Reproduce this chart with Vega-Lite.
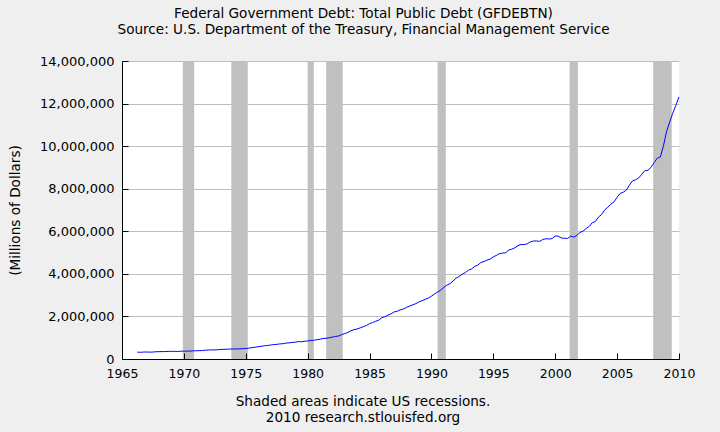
{
  "$schema": "https://vega.github.io/schema/vega-lite/v6.json",
  "autosize": {"type": "none"},
  "width": 557,
  "height": 298,
  "padding": {"left": 122, "top": 61, "right": 41, "bottom": 73},
  "background": "#EFEFEF",
  "config": {"view": {"fill": "white", "stroke": null}, "font": "DejaVu Sans"},
  "title": {
    "text": ["Federal Government Debt: Total Public Debt (GFDEBTN)", "Source: U.S. Department of the Treasury, Financial Management Service"],
    "fontSize": 13.6, "fontWeight": "normal", "color": "black", "anchor": "middle", "frame": "group", "dx": -37, "lineHeight": 16, "offset": 18
  },
  "datasets": {
    "recessions": [
      {"date": "1969-12-01", "end": "1970-11-01"},
      {"date": "1973-11-01", "end": "1975-03-01"},
      {"date": "1980-01-01", "end": "1980-07-01"},
      {"date": "1981-07-01", "end": "1982-11-01"},
      {"date": "1990-07-01", "end": "1991-03-01"},
      {"date": "2001-03-01", "end": "2001-11-01"},
      {"date": "2007-12-01", "end": "2009-06-01"}
    ],
    "debt": [
      {"date": "1966-03-31", "debt": 320999}, {"date": "1966-06-30", "debt": 316097}, {"date": "1966-09-30", "debt": 324748}, {"date": "1966-12-31", "debt": 329319},
      {"date": "1967-03-31", "debt": 322894}, {"date": "1967-06-30", "debt": 326221}, {"date": "1967-09-30", "debt": 340445}, {"date": "1967-12-31", "debt": 344663},
      {"date": "1968-03-31", "debt": 349000}, {"date": "1968-06-30", "debt": 347600}, {"date": "1968-09-30", "debt": 358000}, {"date": "1968-12-31", "debt": 358000},
      {"date": "1969-03-31", "debt": 359000}, {"date": "1969-06-30", "debt": 353700}, {"date": "1969-09-30", "debt": 365800}, {"date": "1969-12-31", "debt": 368200},
      {"date": "1970-03-31", "debt": 370900}, {"date": "1970-06-30", "debt": 370900}, {"date": "1970-09-30", "debt": 382000}, {"date": "1970-12-31", "debt": 389200},
      {"date": "1971-03-31", "debt": 391000}, {"date": "1971-06-30", "debt": 398100}, {"date": "1971-09-30", "debt": 412000}, {"date": "1971-12-31", "debt": 424100},
      {"date": "1972-03-31", "debt": 427000}, {"date": "1972-06-30", "debt": 427300}, {"date": "1972-09-30", "debt": 436000}, {"date": "1972-12-31", "debt": 449300},
      {"date": "1973-03-31", "debt": 456000}, {"date": "1973-06-30", "debt": 458100}, {"date": "1973-09-30", "debt": 467000}, {"date": "1973-12-31", "debt": 469900},
      {"date": "1974-03-31", "debt": 474000}, {"date": "1974-06-30", "debt": 475100}, {"date": "1974-09-30", "debt": 486000}, {"date": "1974-12-31", "debt": 492700},
      {"date": "1975-03-31", "debt": 509000}, {"date": "1975-06-30", "debt": 533200}, {"date": "1975-09-30", "debt": 553000}, {"date": "1975-12-31", "debt": 576600},
      {"date": "1976-03-31", "debt": 599000}, {"date": "1976-06-30", "debt": 620400}, {"date": "1976-09-30", "debt": 634000}, {"date": "1976-12-31", "debt": 653500},
      {"date": "1977-03-31", "debt": 680000}, {"date": "1977-06-30", "debt": 685000}, {"date": "1977-09-30", "debt": 709000}, {"date": "1977-12-31", "debt": 718900},
      {"date": "1978-03-31", "debt": 749000}, {"date": "1978-06-30", "debt": 758000}, {"date": "1978-09-30", "debt": 780000}, {"date": "1978-12-31", "debt": 789200},
      {"date": "1979-03-31", "debt": 819000}, {"date": "1979-06-30", "debt": 812000}, {"date": "1979-09-30", "debt": 833000}, {"date": "1979-12-31", "debt": 845100},
      {"date": "1980-03-31", "debt": 874000}, {"date": "1980-06-30", "debt": 878000}, {"date": "1980-09-30", "debt": 908000}, {"date": "1980-12-31", "debt": 930200},
      {"date": "1981-03-31", "debt": 965000}, {"date": "1981-06-30", "debt": 974000}, {"date": "1981-09-30", "debt": 998000}, {"date": "1981-12-31", "debt": 1028700},
      {"date": "1982-03-31", "debt": 1061000}, {"date": "1982-06-30", "debt": 1079000}, {"date": "1982-09-30", "debt": 1143000}, {"date": "1982-12-31", "debt": 1197100},
      {"date": "1983-03-31", "debt": 1245000}, {"date": "1983-06-30", "debt": 1324000}, {"date": "1983-09-30", "debt": 1381000}, {"date": "1983-12-31", "debt": 1410700},
      {"date": "1984-03-31", "debt": 1464000}, {"date": "1984-06-30", "debt": 1517000}, {"date": "1984-09-30", "debt": 1572000}, {"date": "1984-12-31", "debt": 1663000},
      {"date": "1985-03-31", "debt": 1710000}, {"date": "1985-06-30", "debt": 1774000}, {"date": "1985-09-30", "debt": 1823000}, {"date": "1985-12-31", "debt": 1945900},
      {"date": "1986-03-31", "debt": 1986000}, {"date": "1986-06-30", "debt": 2059000}, {"date": "1986-09-30", "debt": 2125000}, {"date": "1986-12-31", "debt": 2214000},
      {"date": "1987-03-31", "debt": 2246000}, {"date": "1987-06-30", "debt": 2310000}, {"date": "1987-09-30", "debt": 2350000}, {"date": "1987-12-31", "debt": 2431000},
      {"date": "1988-03-31", "debt": 2487000}, {"date": "1988-06-30", "debt": 2547000}, {"date": "1988-09-30", "debt": 2602000}, {"date": "1988-12-31", "debt": 2684000},
      {"date": "1989-03-31", "debt": 2740000}, {"date": "1989-06-30", "debt": 2799000}, {"date": "1989-09-30", "debt": 2857000}, {"date": "1989-12-31", "debt": 2953000},
      {"date": "1990-03-31", "debt": 3052000}, {"date": "1990-06-30", "debt": 3143000}, {"date": "1990-09-30", "debt": 3233000}, {"date": "1990-12-31", "debt": 3364000},
      {"date": "1991-03-31", "debt": 3465000}, {"date": "1991-06-30", "debt": 3538000}, {"date": "1991-09-30", "debt": 3665000}, {"date": "1991-12-31", "debt": 3801000},
      {"date": "1992-03-31", "debt": 3881000}, {"date": "1992-06-30", "debt": 3984000}, {"date": "1992-09-30", "debt": 4065000}, {"date": "1992-12-31", "debt": 4177000},
      {"date": "1993-03-31", "debt": 4230000}, {"date": "1993-06-30", "debt": 4352000}, {"date": "1993-09-30", "debt": 4411000}, {"date": "1993-12-31", "debt": 4536000},
      {"date": "1994-03-31", "debt": 4576000}, {"date": "1994-06-30", "debt": 4646000}, {"date": "1994-09-30", "debt": 4693000}, {"date": "1994-12-31", "debt": 4801000},
      {"date": "1995-03-31", "debt": 4864000}, {"date": "1995-06-30", "debt": 4951000}, {"date": "1995-09-30", "debt": 4974000}, {"date": "1995-12-31", "debt": 4989000},
      {"date": "1996-03-31", "debt": 5118000}, {"date": "1996-06-30", "debt": 5161000}, {"date": "1996-09-30", "debt": 5225000}, {"date": "1996-12-31", "debt": 5329000},
      {"date": "1997-03-31", "debt": 5380000}, {"date": "1997-06-30", "debt": 5376000}, {"date": "1997-09-30", "debt": 5413000}, {"date": "1997-12-31", "debt": 5503000},
      {"date": "1998-03-31", "debt": 5542000}, {"date": "1998-06-30", "debt": 5548000}, {"date": "1998-09-30", "debt": 5526000}, {"date": "1998-12-31", "debt": 5614000},
      {"date": "1999-03-31", "debt": 5651000}, {"date": "1999-06-30", "debt": 5638000}, {"date": "1999-09-30", "debt": 5656000}, {"date": "1999-12-31", "debt": 5776000},
      {"date": "2000-03-31", "debt": 5773000}, {"date": "2000-06-30", "debt": 5685000}, {"date": "2000-09-30", "debt": 5674000}, {"date": "2000-12-31", "debt": 5662000},
      {"date": "2001-03-31", "debt": 5773000}, {"date": "2001-06-30", "debt": 5726000}, {"date": "2001-09-30", "debt": 5807000}, {"date": "2001-12-31", "debt": 5943000},
      {"date": "2002-03-31", "debt": 6006000}, {"date": "2002-06-30", "debt": 6126000}, {"date": "2002-09-30", "debt": 6228000}, {"date": "2002-12-31", "debt": 6405000},
      {"date": "2003-03-31", "debt": 6460000}, {"date": "2003-06-30", "debt": 6670000}, {"date": "2003-09-30", "debt": 6783000}, {"date": "2003-12-31", "debt": 7001000},
      {"date": "2004-03-31", "debt": 7131000}, {"date": "2004-06-30", "debt": 7274000}, {"date": "2004-09-30", "debt": 7379000}, {"date": "2004-12-31", "debt": 7596000},
      {"date": "2005-03-31", "debt": 7777000}, {"date": "2005-06-30", "debt": 7836000}, {"date": "2005-09-30", "debt": 7932000}, {"date": "2005-12-31", "debt": 8170000},
      {"date": "2006-03-31", "debt": 8371000}, {"date": "2006-06-30", "debt": 8420000}, {"date": "2006-09-30", "debt": 8507000}, {"date": "2006-12-31", "debt": 8680000},
      {"date": "2007-03-31", "debt": 8849000}, {"date": "2007-06-30", "debt": 8867000}, {"date": "2007-09-30", "debt": 9007000}, {"date": "2007-12-31", "debt": 9229000},
      {"date": "2008-03-31", "debt": 9437000}, {"date": "2008-06-30", "debt": 9492000}, {"date": "2008-09-30", "debt": 10024000}, {"date": "2008-12-31", "debt": 10700000},
      {"date": "2009-03-31", "debt": 11127000}, {"date": "2009-06-30", "debt": 11545000}, {"date": "2009-09-30", "debt": 11910000}, {"date": "2009-12-31", "debt": 12311000}
    ]
  },
  "encoding": {
    "x": {
      "field": "date", "type": "temporal",
      "scale": {"type": "utc", "domain": [{"year": 1965, "month": 1, "date": 1, "utc": true}, {"year": 2010, "month": 1, "date": 1, "utc": true}]},
      "axis": {
        "values": [
          {"year": 1965, "month": 1, "date": 1, "utc": true}, {"year": 1970, "month": 1, "date": 1, "utc": true},
          {"year": 1975, "month": 1, "date": 1, "utc": true}, {"year": 1980, "month": 1, "date": 1, "utc": true},
          {"year": 1985, "month": 1, "date": 1, "utc": true}, {"year": 1990, "month": 1, "date": 1, "utc": true},
          {"year": 1995, "month": 1, "date": 1, "utc": true}, {"year": 2000, "month": 1, "date": 1, "utc": true},
          {"year": 2005, "month": 1, "date": 1, "utc": true}, {"year": 2010, "month": 1, "date": 1, "utc": true}
        ],
        "format": "%Y", "grid": false, "zindex": 1,
        "tickSize": -6, "tickColor": "black", "domainColor": "black", "labelPadding": 14,
        "labelFontSize": 12.5, "labelColor": "black", "labelFlush": false, "labelOverlap": false,
        "title": ["Shaded areas indicate US recessions.", "2010 research.stlouisfed.org"],
        "titleFontSize": 13.6, "titleFontWeight": "normal", "titleColor": "black", "titleLineHeight": 16,
        "titleX": 240.5, "titleY": 35, "titleAlign": "center", "titleBaseline": "top"
      }
    }
  },
  "layer": [
    {
      "data": {"name": "recessions"},
      "mark": {"type": "rect", "color": "#C0C0C0"},
      "encoding": {"x2": {"field": "end"}}
    },
    {
      "data": {"name": "debt"},
      "mark": {"type": "line", "color": "#0000FF", "strokeWidth": 1},
      "encoding": {
        "y": {
          "field": "debt", "type": "quantitative",
          "scale": {"domain": [0, 14000000], "nice": false},
          "axis": {
            "values": [0, 2000000, 4000000, 6000000, 8000000, 10000000, 12000000, 14000000],
            "format": ",d", "grid": true, "gridColor": "#BEBEBE",
            "tickSize": -6, "tickColor": "black", "domainColor": "black", "labelPadding": 14,
            "labelFontSize": 13, "labelColor": "black", "labelFlush": false,
            "title": "(Millions of Dollars)", "titleFontSize": 13.6, "titleFontWeight": "normal", "titleColor": "black", "titlePadding": 17
          }
        }
      }
    }
  ]
}
